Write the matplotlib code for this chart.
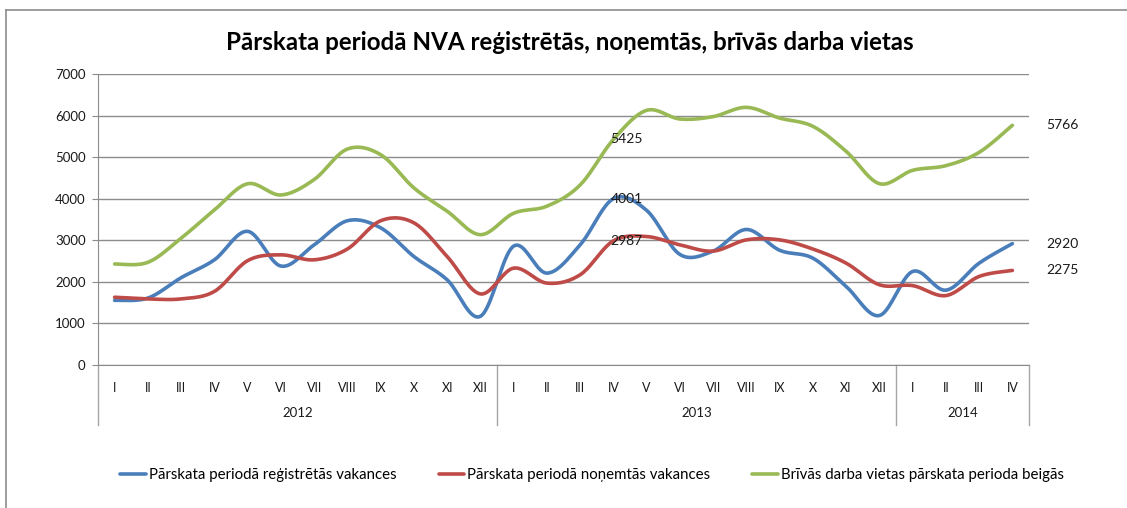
import numpy as np
import matplotlib
matplotlib.use("Agg")
import matplotlib.pyplot as plt
from matplotlib.lines import Line2D
from matplotlib import transforms as mtrans

# ---------------- data ----------------
months = ["I", "II", "III", "IV", "V", "VI", "VII", "VIII", "IX", "X", "XI", "XII",
          "I", "II", "III", "IV", "V", "VI", "VII", "VIII", "IX", "X", "XI", "XII",
          "I", "II", "III", "IV"]
years = ["2012", "2013", "2014"]
year_counts = [12, 12, 4]

registered = [1555, 1610, 2100, 2530, 3215, 2380, 2890, 3470, 3300, 2610, 2050, 1170,
              2860, 2210, 2890, 4001, 3720, 2660, 2740, 3260, 2760, 2570, 1890, 1190,
              2250, 1800, 2450, 2920]
removed = [1630, 1590, 1590, 1770, 2510, 2650, 2530, 2790, 3470, 3420, 2610, 1710,
           2330, 1970, 2170, 2987, 3090, 2890, 2740, 3010, 3010, 2790, 2450, 1930,
           1910, 1670, 2130, 2275]
free = [2430, 2470, 3050, 3730, 4360, 4090, 4460, 5195, 5060, 4260, 3700, 3135,
        3650, 3820, 4330, 5425, 6126, 5917, 5975, 6198, 5940, 5741, 5140, 4362,
        4683, 4795, 5115, 5766]

series_names = ["Pārskata periodā reģistrētās vakances",
                "Pārskata periodā noņemtās vakances",
                "Brīvās darba vietas pārskata perioda beigās"]
colors = ["#4A7EBB", "#BE4B48", "#98B954"]
title = "Pārskata periodā NVA reģistrētās, noņemtās, brīvās darba vietas"
labelled_idx = [15, 27]

FONT = ["Lato", "DejaVu Sans"]
plt.rcParams["font.family"] = FONT

W, H = 1127, 508
fig = plt.figure(figsize=(W / 100, H / 100), dpi=100)

x0, x1, yt, yb = 98, 1029, 74, 365
ax = fig.add_axes([x0 / W, 1 - yb / H, (x1 - x0) / W, (yb - yt) / H])


def smooth(y, n=20):
    """Excel-like smoothing: cubic Bezier with Catmull-Rom control points."""
    y = np.asarray(y, float)
    x = np.arange(len(y), dtype=float)
    P = np.column_stack([x, y])
    ext = np.vstack([P[0], P, P[-1]])
    out = []
    t = np.linspace(0, 1, n, endpoint=False)[:, None]
    for i in range(len(P) - 1):
        p0, p1, p2, p3 = ext[i], ext[i + 1], ext[i + 2], ext[i + 3]
        c1 = p1 + (p2 - p0) / 6
        c2 = p2 - (p3 - p1) / 6
        seg = ((1 - t) ** 3) * p1 + 3 * ((1 - t) ** 2) * t * c1 + 3 * (1 - t) * t ** 2 * c2 + t ** 3 * p2
        out.append(seg)
    out.append(P[-1][None, :])
    out = np.vstack(out)
    return out[:, 0], out[:, 1]


handles = []
for data, c, name in zip([registered, removed, free], colors, series_names):
    sx, sy = smooth(data)
    h, = ax.plot(sx, sy, color=c, lw=2.6, solid_capstyle="round", label=name, zorder=3)
    handles.append(h)

# data labels
for data in [registered, removed, free]:
    for i in labelled_idx:
        dx = -3 if i == 15 else 34
        ax.annotate(f"{data[i]}", (i, data[i]), xytext=(dx * 0.72, 0),
                    textcoords="offset points", ha="left", va="center",
                    fontsize=10, color="#1a1a1a", zorder=4)

n = len(months)
ax.set_xlim(-0.5, n - 0.5)
ax.set_ylim(0, 7000)
ax.set_yticks(np.arange(0, 7001, 1000))
ax.yaxis.grid(True, color="#8c8c8c", lw=1.0)
ax.set_axisbelow(True)
for s in ["top", "right"]:
    ax.spines[s].set_visible(False)
ax.spines["left"].set_color("#8c8c8c")
ax.spines["bottom"].set_color("#8c8c8c")
ax.tick_params(axis="y", length=4, color="#8c8c8c", labelsize=9.5, pad=5, labelcolor="#1a1a1a")
ax.set_xticks(range(n))
ax.set_xticklabels(months, fontsize=9, color="#1a1a1a")
ax.tick_params(axis="x", length=0, pad=12)

# multi-level category axis separators
trans = mtrans.blended_transform_factory(ax.transData, ax.transAxes)
depth = -(425 - 365) / (yb - yt)
bounds = np.concatenate([[0], np.cumsum(year_counts)]) - 0.5
for b in bounds:
    ax.add_line(Line2D([b, b], [0, depth], transform=trans, color="#a6a6a6", lw=1.0, clip_on=False))
for k, yr in enumerate(years):
    xc = (bounds[k] + bounds[k + 1]) / 2
    ax.text(xc, -(413 - 365) / (yb - yt), yr, transform=trans, ha="center", va="center",
            fontsize=9.5, color="#1a1a1a")

# title
fig.text(570 / W, 1 - 42 / H, title, ha="center", va="center", fontsize=17.4, fontweight="bold",
         color="#000000")

# legend
leg = fig.legend(handles=handles, labels=series_names, loc="center", ncol=3,
                 bbox_to_anchor=(592 / W, 1 - 475 / H), frameon=False, fontsize=10.8,
                 handlelength=1.7, handletextpad=0.2, columnspacing=2.8)

# chart border
fig.add_artist(Line2D([6 / W, 1], [1 - 10 / H, 1 - 10 / H], transform=fig.transFigure, color="#8c8c8c", lw=1.2))
fig.add_artist(Line2D([6 / W, 6 / W], [0, 1 - 10 / H], transform=fig.transFigure, color="#8c8c8c", lw=1.2))

fig.savefig("out.png", dpi=100)
